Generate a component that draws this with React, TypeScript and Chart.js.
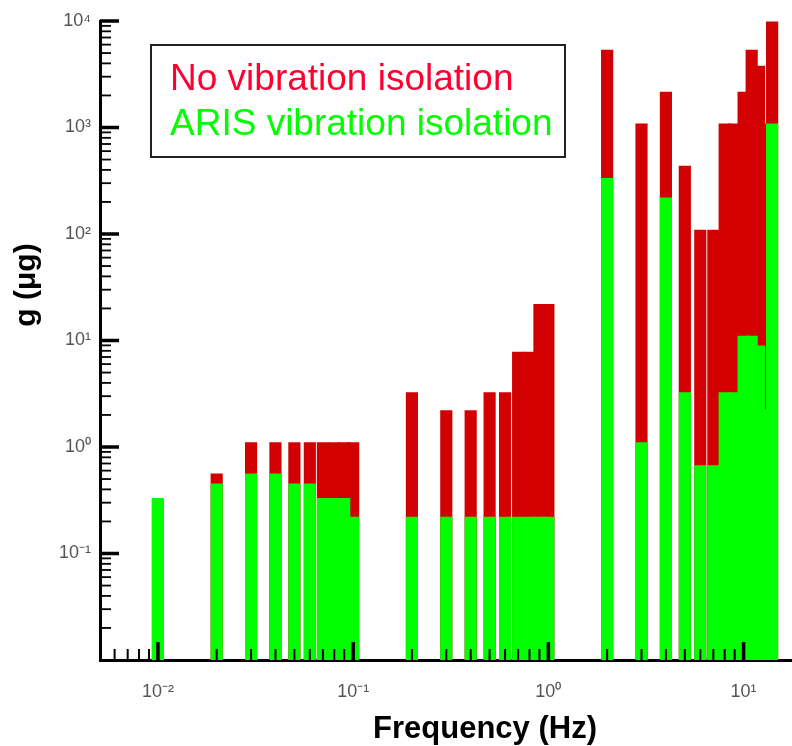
import React, { useEffect, useRef } from 'react';
import { Chart, registerables } from 'chart.js';

Chart.register(...registerables);

// ---- data ----
const frequencies = [
  0.01, 0.02, 0.03, 0.04, 0.05, 0.06, 0.07, 0.08, 0.09, 0.1,
  0.2, 0.3, 0.4, 0.5, 0.6, 0.7, 0.8, 0.9, 1,
  2, 3, 4, 5, 6, 7, 8, 9, 10, 11, 12, 13, 14,
];
const noIsolation = [
  0.33, 0.56, 1.1, 1.1, 1.1, 1.1, 1.1, 1.1, 1.1, 1.1,
  3.25, 2.2, 2.2, 3.25, 3.25, 7.8, 7.8, 21.8, 21.8,
  5340, 1080, 2150, 435, 109, 109, 1080, 1080, 2150, 5340, 3780, 1080, 9800,
];
const arisIsolation = [
  0.33, 0.45, 0.56, 0.56, 0.45, 0.45, 0.33, 0.33, 0.33, 0.22,
  0.22, 0.22, 0.22, 0.22, 0.22, 0.22, 0.22, 0.22, 0.22,
  333, 1.1, 218, 3.25, 0.67, 0.67, 3.25, 3.25, 11, 11, 8.9, 2.25, 1080,
];
const seriesLabels = ['No vibration isolation', 'ARIS vibration isolation'];
const xTitle = 'Frequency (Hz)';
const yTitle = 'g (\u03bcg)';
const xRange = [0.00505, 17.7];
const yRange = [0.01, 10000];

const RED = '#d20000';
const GREEN = '#00ff00';
const LEGEND_RED = '#ff0033';
const FONT = 'Arial, "Liberation Sans", sans-serif';

const SUP: Record<string, string> = {
  '-': '\u207b', '0': '\u2070', '1': '\u00b9', '2': '\u00b2', '3': '\u00b3',
  '4': '\u2074', '5': '\u2075', '6': '\u2076', '7': '\u2077', '8': '\u2078', '9': '\u2079',
};
function isDecade(v: number) {
  const l = Math.log10(v);
  return Math.abs(l - Math.round(l)) < 1e-6;
}
function decadeLabel(v: number) {
  const e = Math.round(Math.log10(v));
  return '10' + String(e).split('').map((c) => SUP[c]).join('');
}
// taller bars drawn last (on top), as in the reference
function pointsSortedByHeight(values: number[]) {
  return frequencies
    .map((f, i) => ({ x: f, y: values[i] }))
    .sort((a, b) => a.y - b.y);
}

const decorPlugin = {
  id: 'decor',
  afterDraw(chart: any) {
    const ctx = chart.ctx as CanvasRenderingContext2D;
    const xs = chart.scales.x;
    const ys = chart.scales.y;
    const area = chart.chartArea;
    ctx.save();
    ctx.fillStyle = '#000';
    // inner tick marks
    for (let e = -3; e <= 4; e++) {
      for (let m = 1; m <= 9; m++) {
        const v = m * Math.pow(10, e);
        if (v >= xRange[0] && v <= xRange[1]) {
          const px = xs.getPixelForValue(v);
          if (m === 1) ctx.fillRect(px - 1.75, area.bottom - 18, 3.5, 18);
          else ctx.fillRect(px - 1, area.bottom - 11, 2, 11);
        }
        if (v > yRange[0] && v <= yRange[1]) {
          const py = ys.getPixelForValue(v);
          if (m === 1) ctx.fillRect(area.left, py - 1.75, 19, 3.5);
          else ctx.fillRect(area.left, py - 0.9, 11, 1.8);
        }
      }
    }
    // axis titles
    ctx.fillStyle = '#000';
    ctx.font = `bold 31px ${FONT}`;
    ctx.textAlign = 'center';
    ctx.textBaseline = 'alphabetic';
    ctx.fillText(xTitle, 485, 738);
    ctx.save();
    ctx.translate(35, 285);
    ctx.rotate(-Math.PI / 2);
    ctx.font = `bold 30px ${FONT}`;
    ctx.fillText(yTitle, 0, 0);
    ctx.restore();
    // legend box
    ctx.fillStyle = '#fff';
    ctx.fillRect(151, 45, 414, 112);
    ctx.strokeStyle = '#222';
    ctx.lineWidth = 2;
    ctx.strokeRect(151, 45, 414, 112);
    ctx.font = `37px ${FONT}`;
    ctx.textAlign = 'left';
    ctx.fillStyle = LEGEND_RED;
    ctx.fillText(seriesLabels[0], 170, 89.5);
    ctx.fillStyle = GREEN;
    ctx.fillText(seriesLabels[1], 170, 135);
    ctx.restore();
  },
};

export default function App() {
  const canvasRef = useRef<HTMLCanvasElement | null>(null);

  useEffect(() => {
    if (!canvasRef.current) return;
    const tickFont = { family: FONT, size: 18 };
    const chart = new Chart(canvasRef.current, {
      type: 'bar',
      data: {
        datasets: [
          {
            label: seriesLabels[0],
            data: pointsSortedByHeight(noIsolation) as any,
            backgroundColor: RED,
            borderWidth: 0,
            barThickness: 11.5,
            stack: 'same',
            order: 2,
          },
          {
            label: seriesLabels[1],
            data: pointsSortedByHeight(arisIsolation) as any,
            backgroundColor: GREEN,
            borderWidth: 0,
            barThickness: 11.5,
            stack: 'same',
            order: 1,
          },
        ],
      },
      options: {
        responsive: false,
        animation: false,
        devicePixelRatio: 1,
        layout: { padding: { top: 21, left: 0, right: 0, bottom: 0 } },
        plugins: { legend: { display: false }, tooltip: { enabled: false }, title: { display: false } },
        scales: {
          x: {
            type: 'logarithmic',
            min: xRange[0],
            max: xRange[1],
            offset: false,
            z: 1,
            grid: { display: false, drawTicks: true, tickLength: 21, offset: false },
            border: { display: true, color: '#000', width: 3 },
            ticks: {
              autoSkip: false,
              maxRotation: 0,
              padding: 0,
              color: '#555',
              font: tickFont,
              callback: (v: any) => (isDecade(Number(v)) ? decadeLabel(Number(v)) : ''),
            },
            afterFit: (s: any) => {
              s.height = 86;
              s.paddingLeft = 0;
              s.paddingRight = 0;
            },
          },
          y: {
            type: 'logarithmic',
            min: yRange[0],
            max: yRange[1],
            stacked: false,
            z: 1,
            grid: { display: false, drawTicks: true, tickLength: 9 },
            border: { display: true, color: '#000', width: 3 },
            ticks: {
              autoSkip: false,
              padding: 0,
              color: '#555',
              font: tickFont,
              callback: (v: any) => (isDecade(Number(v)) && Number(v) > yRange[0] ? decadeLabel(Number(v)) : ''),
            },
            afterFit: (s: any) => {
              s.width = 100;
            },
          },
        },
      } as any,
      plugins: [decorPlugin],
    });
    return () => chart.destroy();
  }, []);

  return (
    <div style={{ position: 'absolute', left: 0, top: 0, width: 792, height: 746, background: '#fff' }}>
      <canvas ref={canvasRef} width={792} height={746} style={{ display: 'block' }} />
    </div>
  );
}
